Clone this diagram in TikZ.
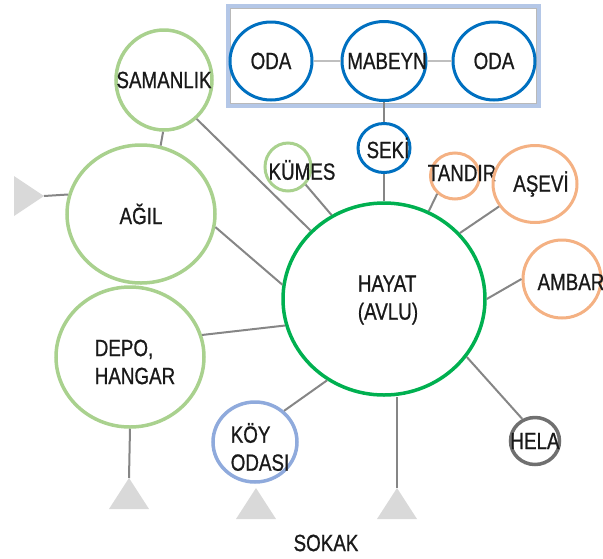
\documentclass[tikz,border=0pt]{standalone}
\usepackage{fontspec}
\setmainfont{Liberation Sans}[FakeStretch=0.8, FakeBold=0.8]
\usetikzlibrary{shapes.geometric}

\definecolor{odablue}{RGB}{0,112,192}
\definecolor{avlugreen}{RGB}{0,176,80}
\definecolor{ahirgreen}{RGB}{169,209,142}
\definecolor{mutfak}{RGB}{244,177,131}
\definecolor{koyblue}{RGB}{143,170,220}
\definecolor{helagray}{RGB}{112,112,112}
\definecolor{boxline}{RGB}{180,199,231}
\definecolor{gatefill}{RGB}{217,217,217}

\begin{document}
\begin{tikzpicture}[x=1pt, y=-1pt,
    rm/.style={ellipse, draw=#1, inner sep=0pt, line width=3pt},
    dia/.style 2 args={minimum width=#1pt, minimum height=#2pt},
    link/.style={line width=2pt, gray!95},
    every label/.style={font=\fontsize{23.5}{28}\selectfont, align=left, text=black!90, inner sep=0pt}]

    \useasboundingbox (0,0) rectangle (603,558);
    \clip (0,0) rectangle (603,558);

    \draw [line width=4pt, boxline] (228,6) rectangle (539,106);
    \draw [line width=0.7pt, gray!55] (230.5,8.5) rectangle (536.5,103.5);

    \node [rm=odablue, dia={82}{78}, label=center:ODA] (oda1) at (271,61) {};
    \node [rm=odablue, dia={84}{79}, label={[xshift=3pt]center:MABEYN}] (mabeyn) at (384,61) {};
    \node [rm=odablue, dia={82}{78}, label=center:ODA] (oda2) at (494,61) {};
    \node [rm=odablue, dia={52}{49}, label={[xshift=4pt]center:SEKİ}] (seki) at (384,148) {};

    \node [rm=ahirgreen, line width=3.5pt, dia={96}{100}, label=center:SAMANLIK] (samanlik) at (164,80) {};
    \node [rm=ahirgreen, line width=3.5pt, dia={148}{138}, label=center:AĞIL] (agil) at (141,214) {};
    \node [rm=ahirgreen, line width=3.5pt, dia={148}{140}, label={[shift={(5,5)}]center:DEPO,\\HANGAR}] (depo) at (130,357) {};
    \node [rm=ahirgreen, dia={46}{48}, label={[shift={(14,3)}]center:KÜMES}] (kumes) at (288,167) {};

    \node [rm=mutfak, dia={49}{46}, label={[shift={(7,-3)}]center:TANDIR}] (tandir) at (455,176) {};
    \node [rm=mutfak, dia={84}{77}, label={[xshift=6pt]center:AŞEVİ}] (asevi) at (535,184) {};
    \node [rm=mutfak, dia={78}{78}, label={[shift={(9,3)}]center:AMBAR}] (ambar) at (562,279) {};

    \node [rm=avlugreen, line width=3.5pt, dia={202}{192}, label={[shift={(4,1)}]center:HAYAT\\(AVLU)}] (hayat) at (384,299) {};
    \node [rm=koyblue, line width=3.5pt, dia={84}{80}, label={[shift={(5,5)}]center:KÖY\\ODASI}] (koy) at (255,442) {};
    \node [rm=helagray, line width=3.5pt, dia={49}{47}, label=center:HELA] (hela) at (535,441) {};

    \fill [gatefill] (44,196) coordinate (gate0) -- ++(-30,-20) -- ++(0,40) -- cycle;
    \foreach \gx/\gy [count=\i] in {129/478, 256/488, 397/488}
      \fill [gatefill] (\gx,\gy) coordinate (gate\i) -- ++(20,31) -- ++(-40,0) -- cycle;

    \node [font=\fontsize{23.5}{28}\selectfont, text=black!90] (sokak) at (326,543) {SOKAK};

    \draw [link, gray!50] (oda1) -- (mabeyn);
    \draw [link, gray!50] (mabeyn) -- (oda2);
    \draw [link] (mabeyn) -- (seki);
    \draw [link] (seki) -- (hayat);
    \draw [link] (samanlik.-50) -- (hayat.137);
    \draw [link] (samanlik.-91) -- (agil.74);
    \draw [link] (agil.-10) -- (hayat.172);
    \draw [link] (agil.165) -- (gate0);
    \draw [link] (kumes.-45) -- (hayat.122);
    \draw [link] (tandir.-135) -- (hayat.63);
    \draw [link] (asevi.-148) -- (hayat.41);
    \draw [link] (ambar.180) -- (hayat.0);
    \draw [link] (hela.120) -- (hayat.-35);
    \draw [link] (koy.47) -- (hayat.-125);
    \draw [link] (depo.17) -- (hayat.-165);
    \draw [link] (depo.south) -- (gate1);
    \draw [link] (gate3) -- (gate3 |- hayat.south);

\end{tikzpicture}
\end{document}
